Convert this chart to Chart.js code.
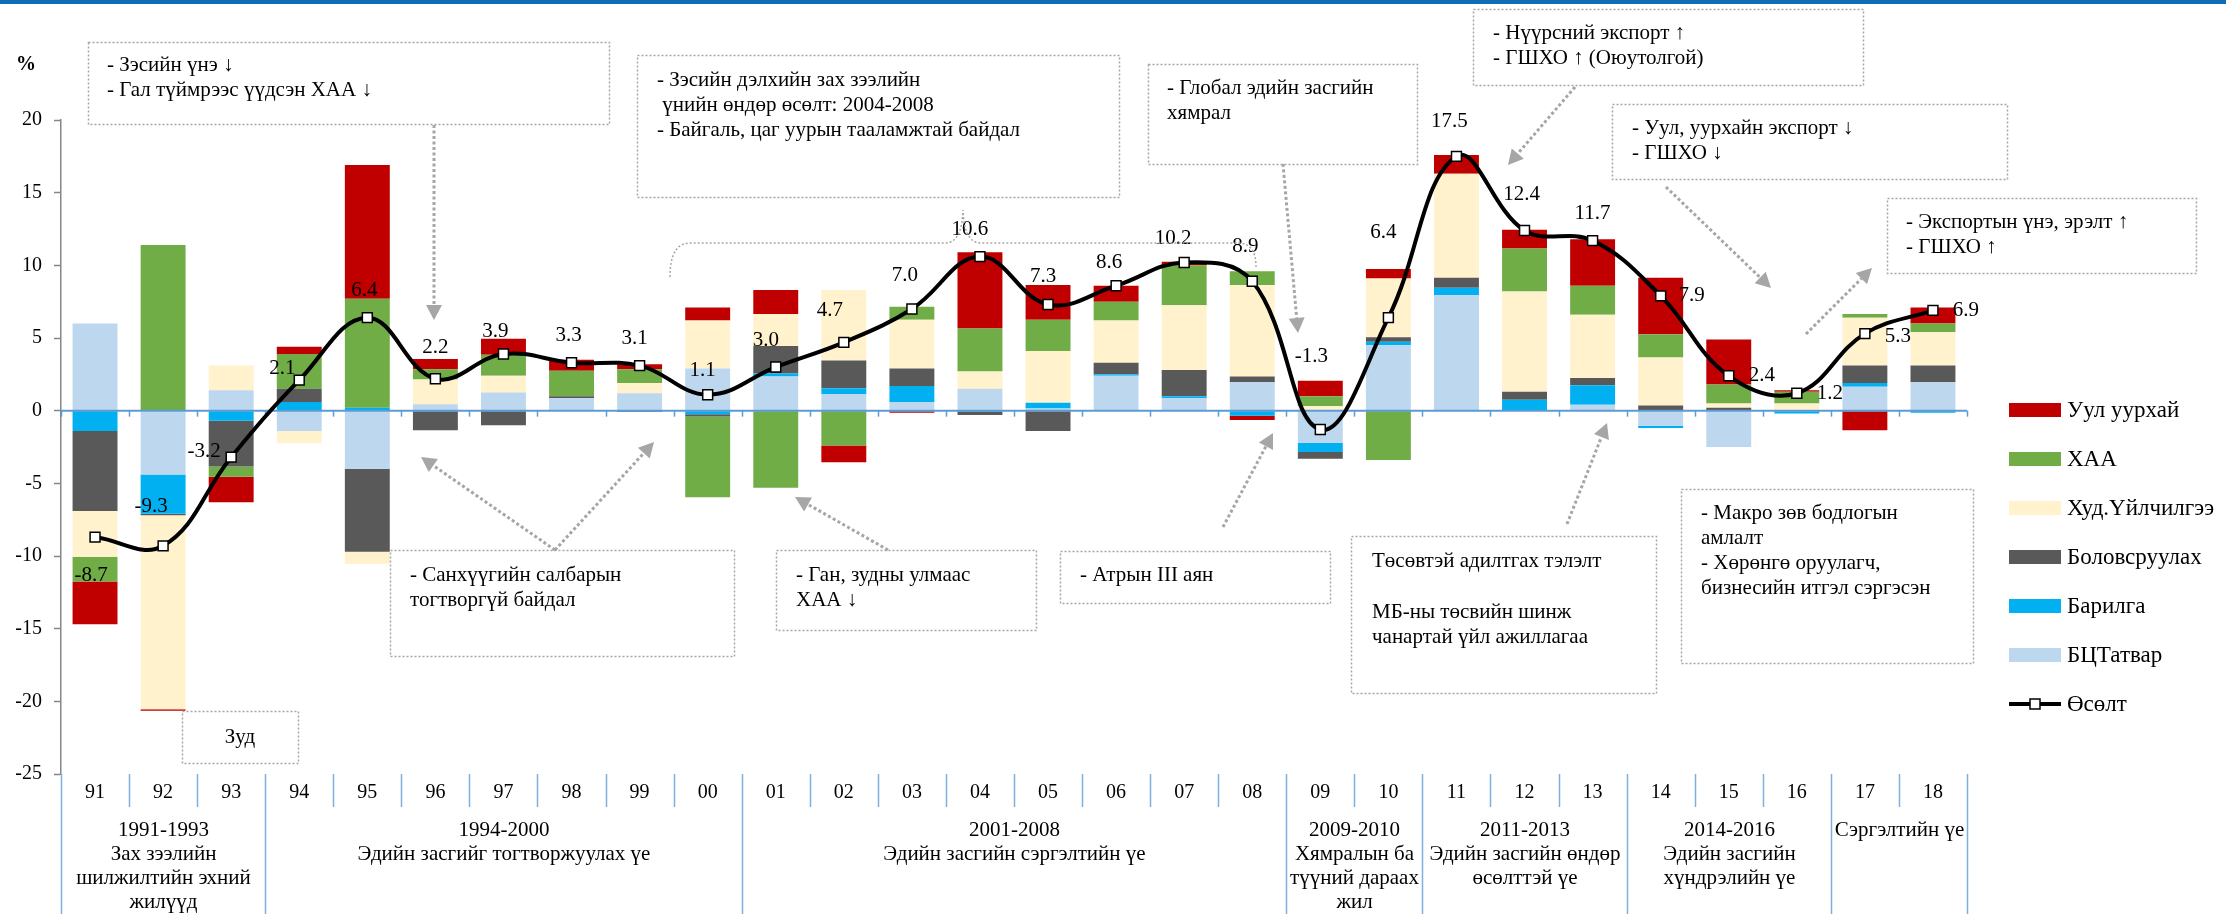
<!DOCTYPE html>
<html>
<head>
<meta charset="utf-8">
<script src="https://cdn.jsdelivr.net/npm/chart.js@4/dist/chart.umd.min.js"></script>
<style>
html,body{margin:0;padding:0;background:#fff;overflow:hidden}
#wrap{position:relative;width:2226px;height:914px}
canvas{display:block}
</style>
</head>
<body>
<div id="wrap"><canvas id="c" width="2226" height="914"></canvas></div>
<script>
// ---------------- DATA ----------------
const categories = ['91','92','93','94','95','96','97','98','99','00','01','02','03','04','05','06','07','08','09','10','11','12','13','14','15','16','17','18'];
// Уул уурхай
const mining = [-2.95,-0.1,-1.75,0.5,9.2,0.7,1.1,0.75,0.35,0.9,1.65,-1.15,-0.15,5.25,2.4,1.1,0.25,-0.3,1.05,0.65,1.3,1.3,3.2,3.9,3.1,0.1,-1.35,1.1];
// ХАА
const agriculture = [-1.7,11.4,-0.7,2.4,7.5,0.7,1.45,1.75,0.95,-5.55,-5.3,-2.4,0.9,2.95,2.15,1.3,2.75,0.95,0.7,-3.4,0,2.95,2.0,1.6,1.3,0.8,0.25,0.6];
// Худ.Үйлчилгээ
const services = [-3.15,-13.35,1.7,-0.85,-0.85,1.7,1.15,0,0.7,3.3,2.2,4.85,3.35,1.2,3.55,2.9,4.45,6.3,0.3,4.05,7.15,6.9,4.35,3.3,0.3,0.5,3.3,2.3];
// Боловсруулах
const manufacturing = [-5.5,-0.1,-3.15,0.9,-5.7,-1.35,-1.0,0.15,-0.1,-0.15,1.9,1.9,1.2,-0.2,-1.4,0.8,1.8,0.4,-0.45,0.3,0.7,0.55,0.5,0.35,0.2,0,1.2,1.15];
// Барилга
const construction = [-1.4,-2.7,-0.7,0.6,0.2,0,0,0,0,-0.25,0.2,0.4,1.1,-0.1,0.4,0.1,0.15,-0.35,-0.65,0.25,0.5,0.75,1.35,-0.15,0,-0.2,0.25,-0.15];
// БЦТатвар
const taxes = [6.0,-4.4,1.4,-1.4,-4.0,0.45,1.25,0.85,1.2,2.9,2.35,1.15,0.6,1.5,0.15,2.4,0.85,1.95,-2.2,4.5,7.95,0,0.4,-1.05,-2.5,0,1.65,1.95];
// Өсөлт
const growth = [-8.7,-9.3,-3.2,2.1,6.4,2.2,3.9,3.3,3.1,1.1,3.0,4.7,7.0,10.6,7.3,8.6,10.2,8.9,-1.3,6.4,17.5,12.4,11.7,7.9,2.4,1.2,5.3,6.9];

const yMin = -25, yMax = 20, yStep = 5;

const groupStart = [0,3,10,18,20,23,26];
const groupLabels = [
  ['1991-1993','Зах зээлийн','шилжилтийн эхний','жилүүд'],
  ['1994-2000','Эдийн засгийг тогтворжуулах үе'],
  ['2001-2008','Эдийн засгийн сэргэлтийн үе'],
  ['2009-2010','Хямралын ба','түүний дараах','жил'],
  ['2011-2013','Эдийн засгийн өндөр','өсөлттэй үе'],
  ['2014-2016','Эдийн засгийн','хүндрэлийн үе'],
  ['Сэргэлтийн үе']
];

// ---------------- STYLE / LAYOUT ----------------
const SERIF = '"Liberation Serif", "Times New Roman", serif';
const COLORS = {taxes:'#BDD7EE', construction:'#00B0F0', manufacturing:'#595959', services:'#FFF2CC', agriculture:'#70AD47', mining:'#C00000'};
const GRAY = '#A6A6A6';
const AXBLUE = '#5B9BD5';

// label offsets (dx, dy) of the growth value labels from their markers
const labelOffsets = [[-4,38],[-12,-39],[-27,-6],[-17,-12],[-3,-27],[0,-31],[-8,-23],[-3,-27],[-5,-27],[-5,-24],
  [-10,-27],[-14,-32],[-7,-33],[-10,-27],[-5,-28],[-7,-23],[-11,-24],[-7,-35],[-9,-73],[-5,-85],
  [-7,-35],[-3,-36],[0,-27],[31,0],[33,0],[33,0],[33,3],[33,0]];

const boxes = [
  {r:[88,42,609,124], t:[107,65], lines:['- Зэсийн үнэ ↓','- Гал түймрээс үүдсэн ХАА ↓']},
  {r:[637,55,1119,197], t:[657,80], lines:['- Зэсийн дэлхийн зах зээлийн',' үнийн өндөр өсөлт: 2004-2008','- Байгаль, цаг уурын тааламжтай байдал']},
  {r:[1148,64,1417,164], t:[1167,88], lines:['- Глобал эдийн засгийн','хямрал']},
  {r:[1473,9,1863,85], t:[1493,33], lines:['- Нүүрсний экспорт ↑','- ГШХО ↑ (Оюутолгой)']},
  {r:[1612,104,2007,179], t:[1632,128], lines:['- Уул, уурхайн экспорт ↓','- ГШХО ↓']},
  {r:[1887,198,2196,273], t:[1906,222], lines:['- Экспортын үнэ, эрэлт ↑','- ГШХО ↑']},
  {r:[182,711,298,763], t:[240,737], lines:['Зуд'], center:true},
  {r:[390,550,734,656], t:[410,575], lines:['- Санхүүгийн салбарын','тогтворгүй байдал']},
  {r:[776,550,1036,630], t:[796,575], lines:['- Ган, зудны улмаас','ХАА ↓']},
  {r:[1060,551,1330,603], t:[1080,575], lines:['- Атрын III аян']},
  {r:[1351,536,1656,693], t:[1372,561], lines:['Төсөвтэй адилтгах тэлэлт','','МБ-ны төсвийн шинж','чанартай үйл ажиллагаа'], lh:25.5},
  {r:[1681,489,1973,663], t:[1701,513], lines:['- Макро зөв бодлогын','амлалт','- Хөрөнгө оруулагч,','бизнесийн итгэл сэргэсэн']}
];
const arrows = [
  [434,125,434,320],
  [555,550,421,457],
  [555,550,654,442],
  [888,550,795,497],
  [1223,527,1273,433],
  [1283,164,1298,333],
  [1575,87,1508,165],
  [1567,524,1607,423],
  [1666,187,1771,288],
  [1806,334,1872,268]
];

function drawArrow(ctx, x1, y1, x2, y2) {
  const dx = x2 - x1, dy = y2 - y1, L = Math.hypot(dx, dy);
  const ux = dx / L, uy = dy / L, px = -uy, py = ux;
  const hl = 15, hw = 8;
  const bx = x2 - ux * hl, by = y2 - uy * hl;
  ctx.save();
  ctx.strokeStyle = GRAY; ctx.lineWidth = 3; ctx.setLineDash([3, 2.5]);
  ctx.beginPath(); ctx.moveTo(x1, y1); ctx.lineTo(bx, by); ctx.stroke();
  ctx.setLineDash([]);
  ctx.fillStyle = GRAY;
  ctx.beginPath(); ctx.moveTo(x2, y2); ctx.lineTo(bx + px * hw, by + py * hw); ctx.lineTo(bx - px * hw, by - py * hw); ctx.closePath(); ctx.fill();
  ctx.restore();
}

const deco = {
  id: 'deco',
  beforeDraw(chart) {
    const c = chart.ctx;
    c.save();
    c.fillStyle = '#fff'; c.fillRect(0, 0, chart.width, chart.height);
    c.fillStyle = '#0F6CB6'; c.fillRect(0, 0, chart.width, 4);
    c.restore();
  },
  beforeDatasetDraw(chart, args) {
    if (args.meta.type !== 'line') return;
    const c = chart.ctx, xs = chart.scales.x, ys = chart.scales.y;
    const y0 = ys.getPixelForValue(0);
    const catW = xs.getPixelForValue(1) - xs.getPixelForValue(0);
    c.save();
    c.strokeStyle = AXBLUE; c.lineWidth = 2;
    c.beginPath(); c.moveTo(chart.chartArea.left, y0); c.lineTo(chart.chartArea.right, y0); c.stroke();
    c.lineWidth = 1.5;
    for (let k = 0; k <= categories.length; k++) {
      const bx = Math.round(xs.getPixelForValue(0) - catW / 2 + k * catW) + 0.5;
      c.beginPath(); c.moveTo(bx, y0); c.lineTo(bx, y0 + 6); c.stroke();
    }
    c.restore();
  },
  afterDatasetsDraw(chart) {
    const c = chart.ctx;
    const meta = chart.getDatasetMeta(6);
    c.save();
    c.font = '21px ' + SERIF; c.fillStyle = '#000'; c.textAlign = 'center'; c.textBaseline = 'middle';
    meta.data.forEach((pt, i) => {
      const o = labelOffsets[i];
      c.fillText(growth[i].toFixed(1), pt.x + o[0], pt.y + o[1]);
    });
    c.restore();
  },
  afterDraw(chart) {
    const c = chart.ctx, xs = chart.scales.x, area = chart.chartArea;
    const catW = xs.getPixelForValue(1) - xs.getPixelForValue(0);
    const bnd = k => Math.round(xs.getPixelForValue(0) - catW / 2 + k * catW) + 0.5;
    const bottom = area.bottom;
    c.save();
    // category separators
    c.strokeStyle = '#7FAFDF'; c.lineWidth = 1.5;
    const gset = new Set(groupStart.concat([categories.length]));
    for (let k = 0; k <= categories.length; k++) {
      const x = bnd(k);
      c.beginPath(); c.moveTo(x, bottom); c.lineTo(x, gset.has(k) ? chart.height : bottom + 33); c.stroke();
    }
    // group labels
    c.font = '21px ' + SERIF; c.fillStyle = '#000'; c.textAlign = 'center'; c.textBaseline = 'middle';
    groupStart.forEach((s, gi) => {
      const e = gi + 1 < groupStart.length ? groupStart[gi + 1] : categories.length;
      const cx = (bnd(s) + bnd(e)) / 2;
      groupLabels[gi].forEach((t, li) => c.fillText(t, cx, bottom + 56 + li * 24));
    });
    // % label
    c.font = 'bold 20px ' + SERIF; c.fillText('%', 26, 65);
    // legend
    const order = [5, 4, 3, 2, 1, 0, 6];
    c.textAlign = 'left'; c.font = '23px ' + SERIF;
    order.forEach((di, i) => {
      const ds = chart.data.datasets[di];
      const y = 410 + i * 49;
      if (ds.type === 'line') {
        c.strokeStyle = '#000'; c.lineWidth = 4;
        c.beginPath(); c.moveTo(2009, y); c.lineTo(2061, y); c.stroke();
        c.fillStyle = '#fff'; c.fillRect(2030, y - 5, 10, 10);
        c.lineWidth = 1.5; c.strokeRect(2030, y - 5, 10, 10);
      } else {
        c.fillStyle = ds.backgroundColor; c.fillRect(2009, y - 7, 52, 14);
      }
      c.fillStyle = '#000';
      c.fillText(ds.label, 2067, y + 1);
    });
    // brace
    c.strokeStyle = GRAY; c.lineWidth = 1.5; c.setLineDash([2, 2]);
    c.beginPath();
    c.moveTo(670, 277);
    c.quadraticCurveTo(670, 243, 690, 243);
    c.lineTo(945, 243);
    c.quadraticCurveTo(962, 243, 963, 210);
    c.quadraticCurveTo(964, 243, 981, 243);
    c.lineTo(1238, 243);
    c.quadraticCurveTo(1256, 243, 1256, 267);
    c.stroke();
    // boxes
    boxes.forEach(b => {
      c.strokeStyle = GRAY; c.lineWidth = 1.5; c.setLineDash([2, 2]);
      c.strokeRect(b.r[0] + 0.5, b.r[1] + 0.5, b.r[2] - b.r[0], b.r[3] - b.r[1]);
      c.setLineDash([]);
      c.fillStyle = '#000'; c.font = '21px ' + SERIF; c.textBaseline = 'middle';
      c.textAlign = b.center ? 'center' : 'left';
      const lh = b.lh || 25;
      b.lines.forEach((t, i) => c.fillText(t, b.t[0], b.t[1] + i * lh));
    });
    c.setLineDash([]);
    arrows.forEach(a => drawArrow(c, a[0], a[1], a[2], a[3]));
    c.restore();
  }
};

const ctx = document.getElementById('c').getContext('2d');
new Chart(ctx, {
  type: 'bar',
  data: {
    labels: categories,
    datasets: [
      {label: 'БЦТатвар', data: taxes, backgroundColor: COLORS.taxes, stack: 's', order: 1},
      {label: 'Барилга', data: construction, backgroundColor: COLORS.construction, stack: 's', order: 1},
      {label: 'Боловсруулах', data: manufacturing, backgroundColor: COLORS.manufacturing, stack: 's', order: 1},
      {label: 'Худ.Үйлчилгээ', data: services, backgroundColor: COLORS.services, stack: 's', order: 1},
      {label: 'ХАА', data: agriculture, backgroundColor: COLORS.agriculture, stack: 's', order: 1},
      {label: 'Уул уурхай', data: mining, backgroundColor: COLORS.mining, stack: 's', order: 1},
      {type: 'line', label: 'Өсөлт', data: growth, stack: 'g', order: 0,
       borderColor: '#000', borderWidth: 4, tension: 0.4, fill: false,
       pointStyle: 'rect', pointRadius: 7, pointBackgroundColor: '#fff', pointBorderColor: '#000', pointBorderWidth: 1.5}
    ]
  },
  options: {
    responsive: false, animation: false, devicePixelRatio: 1,
    layout: {padding: {top: 120, right: 259, left: 0, bottom: 0}},
    plugins: {legend: {display: false}, tooltip: {enabled: false}},
    datasets: {bar: {barPercentage: 0.66, categoryPercentage: 1.0}},
    scales: {
      x: {
        stacked: true,
        grid: {display: false, drawTicks: false},
        border: {display: false},
        ticks: {font: {family: SERIF, size: 20}, color: '#000', padding: 7, autoSkip: false, maxRotation: 0},
        afterFit(s) { s.height = 140; }
      },
      y: {
        stacked: true, min: yMin, max: yMax,
        ticks: {stepSize: yStep, font: {family: SERIF, size: 20}, color: '#000', padding: 12},
        grid: {drawOnChartArea: false, drawTicks: true, tickLength: 7, tickColor: '#868686', tickWidth: 1.5},
        border: {display: true, color: '#868686', width: 1.5},
        afterFit(s) { s.width = 61; }
      }
    }
  },
  plugins: [deco]
});
</script>
</body>
</html>
